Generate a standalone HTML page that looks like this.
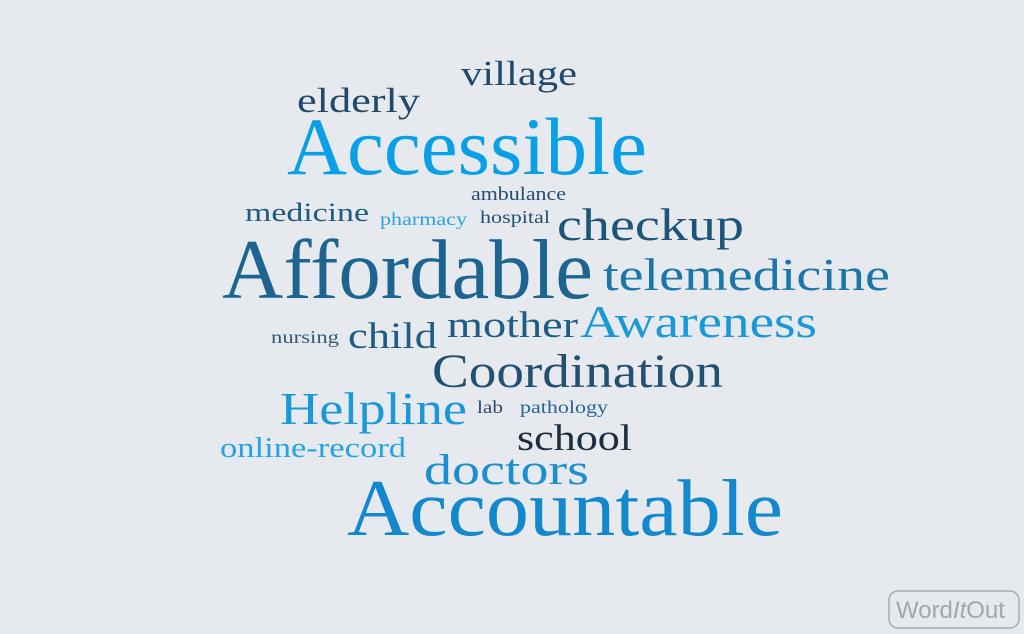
<!DOCTYPE html>
<html><head><meta charset="utf-8"><style>
html,body{margin:0;padding:0;background:#e6e9ee;}
svg{display:block}
text{font-family:"Liberation Serif",serif;}
</style></head><body>
<svg width="1024" height="634" viewBox="0 0 1024 634">
<rect width="1024" height="634" fill="#e6e9ee"/>
<g id="words"></g>
<g>
<rect x="889" y="591" width="130" height="37" rx="9" fill="none" stroke="#a9abae" stroke-width="1.5"/>
<text x="896" y="618" font-size="24" fill="#a4a6a9" style="font-family:'Liberation Sans',sans-serif">Word<tspan font-style="italic">It</tspan>Out</text>
</g>
</svg>
<script>
const words=["village","elderly","Accessible","ambulance","medicine","pharmacy","hospital","checkup","Affordable","telemedicine","nursing","child","mother","Awareness","Coordination","Helpline","lab","pathology","school","online-record","doctors","Accountable"];
const sizes=[35,35,82,19,26,18,18,46,85,45,18,37,37,45,48,46,18,18,37,28,43,80];
const xs=[461,297,287,471,245,380,480,557,222,603,271,348,447,580,432,280,477,520,517,220,424,347];
const ys=[85,112,174,200,221,225,223,240,298,290,343,348,337,337,387,424,413,413,450,457,484,535];
const ws=[116,123,360,95,124,87,70,187,371,287,68,89,131,237,291,187,26,88,115,186,165,436];
const colors=["#22496a","#22496a","#0aa0e8","#24506e","#215b80","#2ba3e6","#24506e","#1c5578","#1d6590","#1b77aa","#335a77","#1f5c83","#1f5c83","#1a98d8","#22506f","#1a98d8","#2d4a63","#256795","#1e2e3f","#25a3e6","#1d8fd0","#1488cc"];
const g=document.getElementById('words');
const NS="http://www.w3.org/2000/svg";
words.forEach((w,i)=>{
const t=document.createElementNS(NS,'text');


t.setAttribute('x',xs[i]);t.setAttribute('y',ys[i]);
t.setAttribute('font-size',sizes[i]);t.setAttribute('fill',colors[i]);
t.setAttribute('textLength',ws[i]);t.setAttribute('lengthAdjust','spacingAndGlyphs');
t.textContent=w;g.appendChild(t);
});
</script>
</body></html>
